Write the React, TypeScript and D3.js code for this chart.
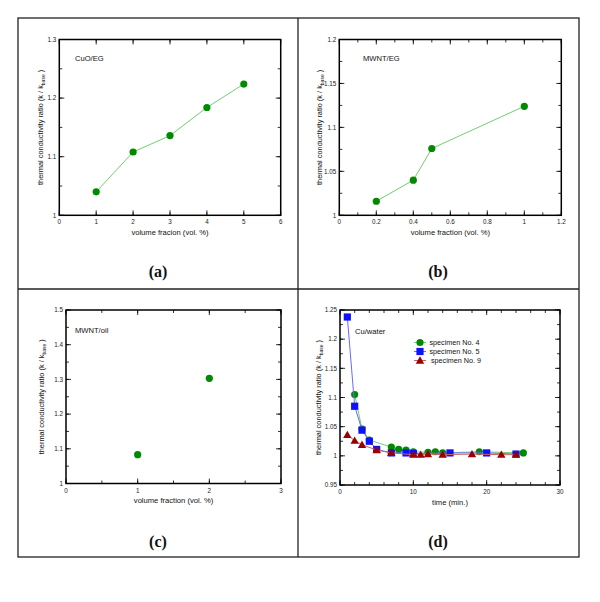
import React from "react";
import * as d3 from "d3";

// ---- data ----
const cuoX = [1, 2, 3, 4, 5];
const cuoY = [1.04, 1.108, 1.136, 1.184, 1.224];

const mwntEgX = [0.2, 0.4, 0.5, 1.0];
const mwntEgY = [1.016, 1.04, 1.076, 1.124];

const mwntOilX = [1, 2];
const mwntOilY = [1.083, 1.303];

const spec4X = [2, 3, 4, 7, 8, 9, 10, 12, 13, 14, 19, 25];
const spec4Y = [1.105, 1.046, 1.027, 1.015, 1.011, 1.01, 1.007, 1.006, 1.007, 1.005, 1.007, 1.005];

const spec5X = [1, 2, 3, 4, 5, 7, 9, 10, 15, 20, 24];
const spec5Y = [1.238, 1.085, 1.044, 1.025, 1.011, 1.005, 1.005, 1.004, 1.005, 1.005, 1.003];

const spec9X = [1, 2, 3, 5, 7, 10, 11, 12, 14, 18, 22, 24];
const spec9Y = [1.036, 1.026, 1.019, 1.01, 1.005, 1.002, 1.002, 1.003, 1.002, 1.003, 1.002, 1.002];

const aXTicks = [0, 1, 2, 3, 4, 5, 6];
const aYTicks = [1, 1.1, 1.2, 1.3];
const bXTicks = [0, 0.2, 0.4, 0.6, 0.8, 1, 1.2];
const bYTicks = [1, 1.05, 1.1, 1.15, 1.2];
const cXTicks = [0, 1, 2, 3];
const cYTicks = [1, 1.1, 1.2, 1.3, 1.4, 1.5];
const dXTicks = [0, 10, 20, 30];
const dYTicks = [0.95, 1, 1.05, 1.1, 1.15, 1.2, 1.25];

const legendLabels = ["specimen No. 4", "specimen No. 5", "specimen No. 9"];

const FONT = "Liberation Sans, Arial, sans-serif";
const GREEN = "#008a00";
const GREEN_LINE = "#6fd06f";
const BLUE = "#1010ff";
const BLUE_LINE = "#6a6aff";
const RED = "#9a0000";
const RED_LINE = "#c86464";

type Series = { xs: number[]; ys: number[]; color: string; line?: string; shape: "circle" | "square" | "triangle" };

type PanelProps = {
  x0: number; x1: number; y0: number; y1: number;
  xDomain: [number, number]; yDomain: [number, number];
  xTicks: number[]; yTicks: number[];
  xMinor: number; yMinor: number;
  xTitle: string; yTitleX: number;
  label: string; labelX: number; labelY: number;
  series: Series[];
};

function Marker({ shape, x, y, color }: { shape: string; x: number; y: number; color: string }) {
  if (shape === "circle") return <circle cx={x} cy={y} r={3.6} fill={color} />;
  if (shape === "square") return <rect x={x - 3.6} y={y - 3.6} width={7.2} height={7.2} fill={color} />;
  const s = 4.2;
  return <path d={`M${x},${y - s}L${x + s},${y + s * 0.75}L${x - s},${y + s * 0.75}Z`} fill={color} />;
}

function Panel(p: PanelProps) {
  const xs = d3.scaleLinear().domain(p.xDomain).range([p.x0, p.x1]);
  const ys = d3.scaleLinear().domain(p.yDomain).range([p.y1, p.y0]);
  const fmt = (v: number) => String(+v.toFixed(3));
  const xMinorTicks = d3.range(p.xDomain[0], p.xDomain[1] + 1e-9, p.xMinor);
  const yMinorTicks = d3.range(p.yDomain[0], p.yDomain[1] + 1e-9, p.yMinor);
  const MAJ = 5, MIN = 3;
  const line = d3.line<number>().x((_, i) => 0).y(() => 0);
  void line;
  return (
    <g>
      {/* minor ticks */}
      {xMinorTicks.map((t, i) => (
        <g key={"xm" + i} stroke="#000" strokeWidth={0.8}>
          <line x1={xs(t)} x2={xs(t)} y1={p.y1} y2={p.y1 - MIN} />
          <line x1={xs(t)} x2={xs(t)} y1={p.y0} y2={p.y0 + MIN} />
        </g>
      ))}
      {yMinorTicks.map((t, i) => (
        <g key={"ym" + i} stroke="#000" strokeWidth={0.8}>
          <line x1={p.x0} x2={p.x0 + MIN} y1={ys(t)} y2={ys(t)} />
          <line x1={p.x1} x2={p.x1 - MIN} y1={ys(t)} y2={ys(t)} />
        </g>
      ))}
      {p.xTicks.map((t, i) => (
        <g key={"x" + i}>
          <line x1={xs(t)} x2={xs(t)} y1={p.y1} y2={p.y1 - MAJ} stroke="#000" strokeWidth={0.8} />
          <line x1={xs(t)} x2={xs(t)} y1={p.y0} y2={p.y0 + MAJ} stroke="#000" strokeWidth={0.8} />
          <text x={xs(t)} y={p.y1 + 9} textAnchor="middle" fontSize={6.3} fontFamily={FONT} fill="#222">{fmt(t)}</text>
        </g>
      ))}
      {p.yTicks.map((t, i) => (
        <g key={"y" + i}>
          <line x1={p.x0} x2={p.x0 + MAJ} y1={ys(t)} y2={ys(t)} stroke="#000" strokeWidth={0.8} />
          <line x1={p.x1} x2={p.x1 - MAJ} y1={ys(t)} y2={ys(t)} stroke="#000" strokeWidth={0.8} />
          <text x={p.x0 - 3} y={ys(t) + 2.2} textAnchor="end" fontSize={6.3} fontFamily={FONT} fill="#222">{fmt(t)}</text>
        </g>
      ))}
      <rect x={p.x0} y={p.y0} width={p.x1 - p.x0} height={p.y1 - p.y0} fill="none" stroke="#000" strokeWidth={1.5} />
      <text x={(p.x0 + p.x1) / 2} y={p.y1 + 19.5} textAnchor="middle" fontSize={7.6} fontFamily={FONT} fill="#111">{p.xTitle}</text>
      <text transform={`translate(${p.yTitleX},${(p.y0 + p.y1) / 2}) rotate(-90)`} textAnchor="middle" fontSize={7.4} fontFamily={FONT} fill="#111">
        thermal conductivity ratio (k / k<tspan fontSize={5} dy={1.8}>base</tspan><tspan dy={-1.8}> )</tspan>
      </text>
      <text x={p.labelX} y={p.labelY} fontSize={7.6} fontFamily={FONT} fill="#111">{p.label}</text>
      {p.series.map((s, si) => {
        const pts = s.xs.map((x, i) => [xs(x), ys(s.ys[i])] as [number, number]);
        const path = d3.line()(pts);
        return (
          <g key={"s" + si}>
            {s.line && <path d={path || ""} fill="none" stroke={s.line} strokeWidth={1} />}
            {pts.map((pt, i) => <Marker key={i} shape={s.shape} x={pt[0]} y={pt[1]} color={s.color} />)}
          </g>
        );
      })}
    </g>
  );
}

export default function App() {
  const legendShapes: ("circle" | "square" | "triangle")[] = ["circle", "square", "triangle"];
  const legendColors = [GREEN, BLUE, RED];
  const legendLines = [GREEN_LINE, BLUE_LINE, RED_LINE];
  return (
    <svg width={600} height={602} style={{ position: "absolute", left: 0, top: 0, background: "#fff" }}>
      <rect x={0} y={0} width={600} height={602} fill="#fff" />
      <rect x={18} y={18} width={561} height={539} fill="none" stroke="#222" strokeWidth={1.3} />
      <line x1={298} x2={298} y1={18} y2={557} stroke="#222" strokeWidth={1.3} />
      <line x1={18} x2={579} y1={289} y2={289} stroke="#222" strokeWidth={1.3} />

      <Panel x0={59.3} x1={280.7} y0={39.5} y1={215.3} xDomain={[0, 6]} yDomain={[1, 1.3]}
        xTicks={aXTicks} yTicks={aYTicks} xMinor={1} yMinor={0.05}
        xTitle="volume fracion (vol. %)" yTitleX={43} label="CuO/EG" labelX={75} labelY={60.5}
        series={[{ xs: cuoX, ys: cuoY, color: GREEN, line: GREEN_LINE, shape: "circle" }]} />

      <Panel x0={339.3} x1={561.3} y0={39.5} y1={215.3} xDomain={[0, 1.2]} yDomain={[1, 1.2]}
        xTicks={bXTicks} yTicks={bYTicks} xMinor={0.1} yMinor={0.025}
        xTitle="volume fraction (vol. %)" yTitleX={322} label="MWNT/EG" labelX={363} labelY={60.5}
        series={[{ xs: mwntEgX, ys: mwntEgY, color: GREEN, line: GREEN_LINE, shape: "circle" }]} />

      <Panel x0={66} x1={281} y0={310} y1={483.5} xDomain={[0, 3]} yDomain={[1, 1.5]}
        xTicks={cXTicks} yTicks={cYTicks} xMinor={0.5} yMinor={0.05}
        xTitle="volume fraction (vol. %)" yTitleX={44} label="MWNT/oil" labelX={75} labelY={333}
        series={[{ xs: mwntOilX, ys: mwntOilY, color: GREEN, shape: "circle" }]} />

      <Panel x0={340} x1={560} y0={310} y1={485} xDomain={[0, 30]} yDomain={[0.95, 1.25]}
        xTicks={dXTicks} yTicks={dYTicks} xMinor={2} yMinor={0.025}
        xTitle="time (min.)" yTitleX={321} label="Cu/water" labelX={355} labelY={333.5}
        series={[
          { xs: spec4X, ys: spec4Y, color: GREEN, line: GREEN_LINE, shape: "circle" },
          { xs: spec5X, ys: spec5Y, color: BLUE, line: BLUE_LINE, shape: "square" },
          { xs: spec9X, ys: spec9Y, color: RED, line: RED_LINE, shape: "triangle" },
        ]} />

      {legendLabels.map((lab, i) => {
        const y = 342.5 + i * 9;
        return (
          <g key={lab}>
            <line x1={414} x2={426} y1={y} y2={y} stroke={legendLines[i]} strokeWidth={1} />
            <Marker shape={legendShapes[i]} x={420} y={y} color={legendColors[i]} />
            <text x={429.5 + (i === 2 ? 1.5 : 0)} y={y + 2.5} fontSize={7.2} fontFamily={FONT} fill="#111">{lab}</text>
          </g>
        );
      })}

      {["(a)", "(b)", "(c)", "(d)"].map((l, i) => (
        <text key={l} x={i % 2 === 0 ? 158 : 438} y={i < 2 ? 276.5 : 546.5} textAnchor="middle"
          fontSize={16} fontWeight="bold" fontFamily="Liberation Serif, Times New Roman, serif" fill="#111">{l}</text>
      ))}
    </svg>
  );
}
